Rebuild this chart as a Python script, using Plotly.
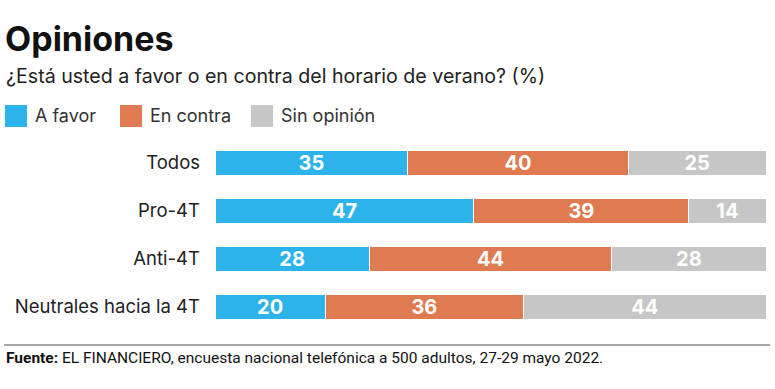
import plotly.graph_objects as go

categories = ["Todos", "Pro-4T", "Anti-4T", "Neutrales hacia la 4T"]
series_names = ["A favor", "En contra", "Sin opinión"]
a_favor = [35, 47, 28, 20]
en_contra = [40, 39, 44, 36]
sin_opinion = [25, 14, 28, 44]
colors = ["#2cb3ea", "#e07a50", "#c6c6c6"]

W, H = 775, 389
ML, MR, MT, MB = 215, 9, 139, 58
FONT = "Inter, Lato, sans-serif"

fig = go.Figure()
for name, vals, col in zip(series_names, [a_favor, en_contra, sin_opinion], colors):
    fig.add_trace(go.Bar(
        y=categories, x=vals, name=name, orientation="h",
        marker=dict(color=col, line=dict(color="white", width=1)),
        text=[str(v) for v in vals], textposition="inside", textangle=0,
        insidetextanchor="middle", constraintext="none",
        textfont=dict(family=FONT, size=20, color="white", weight="bold"),
        hoverinfo="skip", showlegend=False,
    ))

fig.update_layout(
    width=W, height=H, barmode="stack", bargap=0.48,
    margin=dict(l=ML, r=MR, t=MT, b=MB, autoexpand=False),
    paper_bgcolor="white", plot_bgcolor="white",
    xaxis=dict(range=[0, 100], visible=False, fixedrange=True),
    yaxis=dict(autorange="reversed", showgrid=False, zeroline=False, showline=False,
               ticks="", ticklabelstandoff=14, fixedrange=True,
               tickfont=dict(family=FONT, size=18.5, color="#222")),
    font=dict(family=FONT),
)


def px_x(px):
    return (px - ML) / (W - ML - MR)


def px_y(py):
    return 1 - (py - MT) / (H - MT - MB)


fig.add_annotation(text="<b>Opiniones</b>", xref="paper", yref="paper",
                   x=px_x(3), y=px_y(38), xanchor="left", yanchor="middle",
                   showarrow=False, font=dict(size=34, color="#111", family=FONT))
fig.add_annotation(text="¿Está usted a favor o en contra del horario de verano? (%)",
                   xref="paper", yref="paper", x=px_x(4), y=px_y(76),
                   xanchor="left", yanchor="middle", showarrow=False,
                   font=dict(size=19.6, color="#222", family=FONT))

# Legend
leg_x = [5, 120, 251]
for lx, name, col in zip(leg_x, series_names, colors):
    fig.add_shape(type="rect", xref="paper", yref="paper",
                  x0=px_x(lx), x1=px_x(lx + 22), y0=px_y(105), y1=px_y(127),
                  fillcolor=col, line=dict(width=0))
    fig.add_annotation(text=name, xref="paper", yref="paper", x=px_x(lx + 28), y=px_y(116),
                       xanchor="left", yanchor="middle", showarrow=False,
                       font=dict(size=18, color="#333", family=FONT))

# Footer
fig.add_shape(type="line", xref="paper", yref="paper",
              x0=px_x(4), x1=px_x(770), y0=px_y(345), y1=px_y(345),
              line=dict(color="#8a8a8a", width=1.5))
fig.add_annotation(text="<b>Fuente:</b> EL FINANCIERO, encuesta nacional telefónica a 500 adultos, 27-29 mayo 2022.",
                   xref="paper", yref="paper", x=px_x(4), y=px_y(358),
                   xanchor="left", yanchor="middle", showarrow=False,
                   font=dict(size=15.5, color="#111", family="Liberation Sans Narrow, Roboto, sans-serif"))

fig.write_html("out.html", config={"displayModeBar": False},
               post_script="document.body.style.margin='0';")
